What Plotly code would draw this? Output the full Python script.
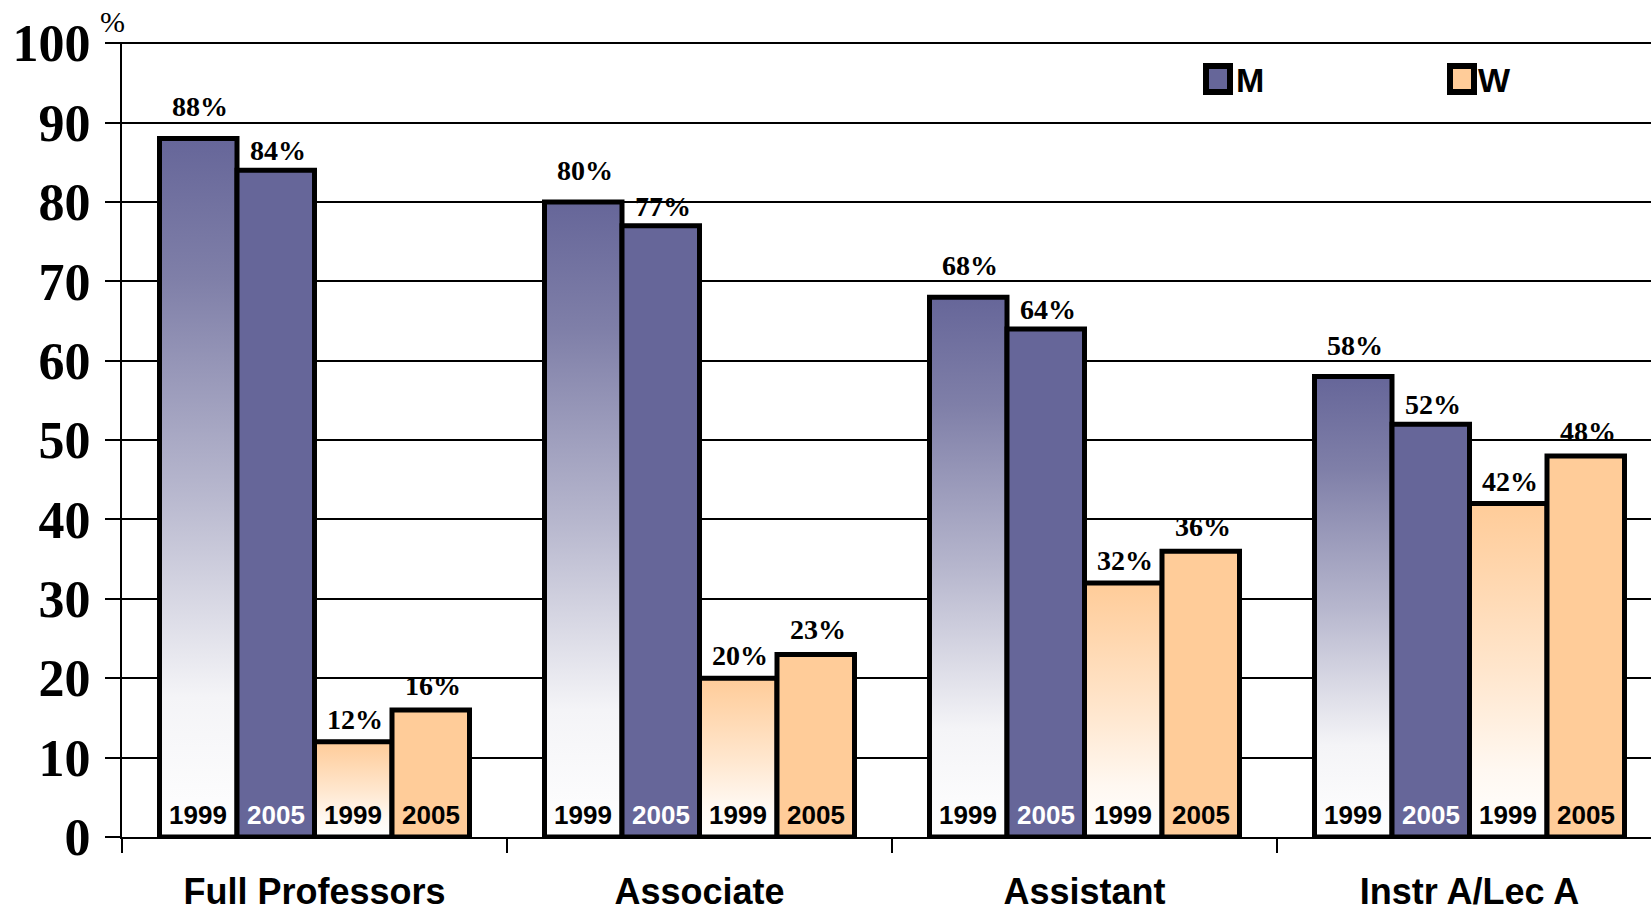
import plotly.graph_objects as go

categories = ["Full Professors", "Associate", "Assistant", "Instr A/Lec A"]
m_1999 = [88, 80, 68, 58]
m_2005 = [84, 77, 64, 52]
w_1999 = [12, 20, 32, 42]
w_2005 = [16, 23, 36, 48]
years = ["1999", "2005", "1999", "2005"]
y_ticks = [0, 10, 20, 30, 40, 50, 60, 70, 80, 90, 100]

PURPLE = "#666699"
ORANGE = "#FFCC99"
BAR_W = 0.2013

series = [
    dict(values=m_1999, color=PURPLE, gradient=True, year_color="black", label_shift=14),
    dict(values=m_2005, color=PURPLE, gradient=False, year_color="white", label_shift=2),
    dict(values=w_1999, color=ORANGE, gradient=True, year_color="black", label_shift=5),
    dict(values=w_2005, color=ORANGE, gradient=False, year_color="black", label_shift=7),
]

W, H = 1651, 911
L, R, T, B = 122, 0, 42, 74
PX_PER_CAT = 385.0
x_max = -0.5 + (W - L - R) / PX_PER_CAT

fig = go.Figure()
annotations = []

for ci, cat in enumerate(categories):
    for si, s in enumerate(series):
        v = s["values"][ci]
        xc = ci + (si - 1.5) * BAR_W
        x0, x1 = xc - BAR_W / 2, xc + BAR_W / 2
        trace = dict(
            x=[x0, x0, x1, x1, x0],
            y=[0, v, v, 0, 0],
            mode="lines",
            fill="toself",
            line=dict(color="black", width=5),
            hoverinfo="skip",
            showlegend=False,
        )
        if s["gradient"]:
            trace["fillgradient"] = dict(
                type="vertical",
                colorscale=[[0, "#ffffff"], [0.2, "#f4f4f7"], [0.5, "#b6b6cd"], [0.8, "#7f7fa8"], [1, s["color"]]]
                if s["color"] == PURPLE else
                [[0, "#ffffff"], [0.2, "#fff8f1"], [0.5, "#ffe6cd"], [0.8, "#ffd6ad"], [1, s["color"]]],
            )
        else:
            trace["fillcolor"] = s["color"]
        fig.add_trace(go.Scatter(**trace))
        annotations.append(dict(
            x=xc, y=v, xref="x", yref="y", text=f"{v}%", showarrow=False,
            yanchor="bottom", yshift=s["label_shift"], xshift=2,
            font=dict(family="Liberation Serif", size=28, color="black", weight="bold"),
        ))
        annotations.append(dict(
            x=xc, y=0, xref="x", yref="y", text=years[si], showarrow=False,
            yanchor="bottom", yshift=5,
            font=dict(family="Liberation Sans", size=26, color=s["year_color"], weight="bold"),
        ))

plot_w = W - L - R
plot_h = H - T - B


def px(xp):
    return (xp - L) / plot_w


def py(yp):
    return (H - B - yp) / plot_h


shapes = []
for (x0p, color, label, tx) in [(1206, PURPLE, "M", 1234), (1450, ORANGE, "W", 1476)]:
    shapes.append(dict(type="rect", xref="paper", yref="paper",
                       x0=px(x0p), x1=px(x0p + 24), y0=py(92), y1=py(66),
                       line=dict(color="black", width=6), fillcolor=color, layer="above"))
    annotations.append(dict(x=px(tx), y=py(80), xref="paper", yref="paper", text=label,
                            showarrow=False, xanchor="left", yanchor="middle",
                            font=dict(family="Liberation Sans", size=34, color="black", weight="bold")))

annotations.append(dict(x=px(112), y=py(21), xref="paper", yref="paper", text="%",
                        showarrow=False, xanchor="center", yanchor="middle",
                        font=dict(family="Liberation Serif", size=30, color="black")))

fig.update_layout(
    width=W, height=H,
    margin=dict(l=L, r=R, t=T, b=B, autoexpand=False),
    plot_bgcolor="white", paper_bgcolor="white",
    showlegend=False,
    annotations=annotations,
    shapes=shapes,
    xaxis=dict(
        range=[-0.5, x_max], tickmode="array", tickvals=list(range(len(categories))),
        ticktext=categories, ticks="", showgrid=False, zeroline=False,
        showline=True, linecolor="black", linewidth=2,
        tickfont=dict(family="Liberation Sans", size=36, color="black", weight="bold"),
        ticklabelstandoff=22,
        minor=dict(tickmode="array", tickvals=[-0.5, 0.5, 1.5, 2.5], ticks="outside",
                   ticklen=14, tickwidth=2, tickcolor="black", showgrid=False),
    ),
    yaxis=dict(
        range=[0, 100.15], tickmode="array", tickvals=y_ticks,
        showgrid=True, gridcolor="black", gridwidth=2, zeroline=False,
        showline=True, linecolor="black", linewidth=2,
        ticks="outside", ticklen=15, tickwidth=2, tickcolor="black",
        tickfont=dict(family="Liberation Serif", size=52, color="black", weight="bold"),
        ticklabelstandoff=4,
    ),
)

fig.write_html("out.html", config={"displayModeBar": False},
               post_script="document.body.style.margin='0';document.body.style.overflow='hidden';")
